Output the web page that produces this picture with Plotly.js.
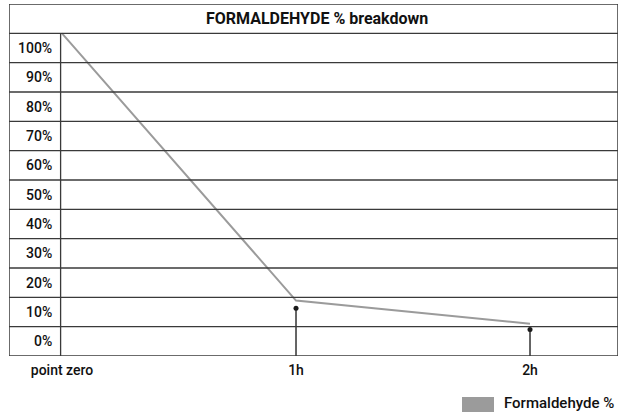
<!DOCTYPE html>
<html>
<head>
<meta charset="utf-8">
<script src="https://cdn.plot.ly/plotly-3.0.1.min.js"></script>
<style>html,body{margin:0;padding:0;background:#fff;}#chart{width:621px;height:412px;}</style>
</head>
<body>
<div id="chart"></div>
<script>
// Data
const chartTitle = 'FORMALDEHYDE % breakdown';
const seriesName = 'Formaldehyde %';
const timeLabels = ['point zero', '1h', '2h'];
const timeValues = [0, 1, 2];
const lineValues = [105, 13.9, 6.0];
const markerTimes = [1, 2];
const markerValues = [11.3, 4.0];
const yTickValues = [0, 10, 20, 30, 40, 50, 60, 70, 80, 90, 100];
const yTickLabels = ['0%', '10%', '20%', '30%', '40%', '50%', '60%', '70%', '80%', '90%', '100%'];

const FONT = 'Roboto, "Liberation Sans", sans-serif';
const GRID = '#3a3a3a';
const yMin = -5, yMax = 115;
const xMin = -0.2265, xMax = 2.376, xDiv = -0.006;

// stems from markers down to the bottom border
const stemX = [], stemY = [];
markerTimes.forEach((t, i) => { stemX.push(t, t, null); stemY.push(yMin, markerValues[i], null); });

const traces = [
  {x: timeValues, y: lineValues, mode: 'lines', line: {color: '#9b9b9b', width: 2}, showlegend: false, hoverinfo: 'skip'},
  {x: stemX, y: stemY, mode: 'lines', line: {color: '#333', width: 1.5}, showlegend: false, hoverinfo: 'skip'},
  {x: markerTimes, y: markerValues, mode: 'markers', marker: {color: '#1a1a1a', size: 5}, showlegend: false}
];

const shapes = [];
// row boundaries
yTickValues.forEach(v => {
  shapes.push({type: 'line', xref: 'x', yref: 'y', x0: xMin, x1: xMax, y0: v - 5, y1: v - 5, line: {color: GRID, width: 1.3}});
});
shapes.push({type: 'line', xref: 'x', yref: 'y', x0: xMin, x1: xMax, y0: 105, y1: 105, line: {color: GRID, width: 1.3}});
shapes.push({type: 'line', xref: 'x', yref: 'y', x0: xMin, x1: xMax, y0: yMax, y1: yMax, line: {color: GRID, width: 1.3}});
// vertical borders
shapes.push({type: 'line', xref: 'x', yref: 'y', x0: xMin, x1: xMin, y0: yMin, y1: yMax, line: {color: GRID, width: 1.5}});
shapes.push({type: 'line', xref: 'x', yref: 'y', x0: xMax, x1: xMax, y0: yMin, y1: yMax, line: {color: GRID, width: 1.5}});
shapes.push({type: 'line', xref: 'x', yref: 'y', x0: xDiv, x1: xDiv, y0: yMin, y1: 105, line: {color: GRID, width: 1.3}});
// legend swatch
shapes.push({type: 'rect', xref: 'paper', yref: 'paper', x0: (462 - 9) / 609, x1: (494 - 9) / 609, y0: -(397 - 356) / 352, y1: -(416 - 356) / 352, fillcolor: '#9b9b9b', line: {width: 0}});

const annotations = [];
yTickValues.forEach((v, i) => {
  annotations.push({xref: 'paper', yref: 'y', x: (54 - 9) / 609, y: v, text: yTickLabels[i], showarrow: false, xanchor: 'right', yanchor: 'middle', font: {family: FONT, size: 14, color: '#111', weight: 500}});
});
annotations.push({xref: 'paper', yref: 'y', x: 0.505, y: 110, text: '<b>' + chartTitle + '</b>', showarrow: false, xanchor: 'center', yanchor: 'middle', font: {family: FONT, size: 16, color: '#111'}});
annotations.push({xref: 'paper', yref: 'paper', x: (502 - 9) / 609, y: -(403 - 356) / 352, text: seriesName, showarrow: false, xanchor: 'left', yanchor: 'middle', font: {family: FONT, size: 15, color: '#111', weight: 500}});

const layout = {
  width: 621, height: 412,
  margin: {l: 9, r: 3, t: 4, b: 56},
  paper_bgcolor: '#fff', plot_bgcolor: '#fff',
  xaxis: {range: [xMin, xMax], tickvals: timeValues, ticktext: timeLabels, showgrid: false, zeroline: false, showline: false, ticks: '', ticklabelstandoff: 4, tickfont: {family: FONT, size: 14, color: '#111', weight: 500}},
  yaxis: {range: [yMin, yMax], showgrid: false, zeroline: false, showline: false, showticklabels: false, ticks: ''},
  shapes: shapes,
  annotations: annotations,
  showlegend: false
};

Plotly.newPlot('chart', traces, layout, {displayModeBar: false, staticPlot: true});
</script>
</body>
</html>
